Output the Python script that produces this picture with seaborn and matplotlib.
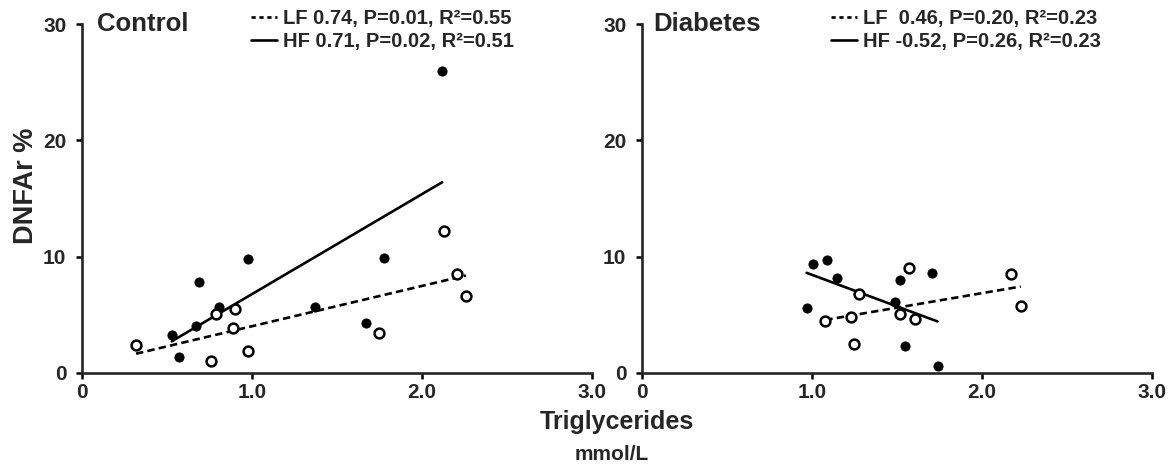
import matplotlib
matplotlib.use("Agg")
import matplotlib.pyplot as plt
import numpy as np
import pandas as pd
import seaborn as sns

# Control group: HF (filled) and LF (open) measurements
ctrl_hf_x = [0.53, 0.57, 0.67, 0.69, 0.81, 0.98, 1.37, 1.67, 1.78, 2.12]
ctrl_hf_y = [3.3, 1.4, 4.0, 7.8, 5.7, 9.8, 5.7, 4.3, 9.9, 26.0]
ctrl_lf_x = [0.32, 0.76, 0.79, 0.89, 0.90, 0.98, 1.75, 2.13, 2.21, 2.26]
ctrl_lf_y = [2.4, 1.0, 5.1, 3.9, 5.5, 1.9, 3.4, 12.2, 8.5, 6.6]

# Diabetes group
diab_hf_x = [0.97, 1.01, 1.09, 1.15, 1.49, 1.52, 1.55, 1.71, 1.74]
diab_hf_y = [5.6, 9.4, 9.7, 8.2, 6.1, 8.0, 2.3, 8.6, 0.6]
diab_lf_x = [1.08, 1.23, 1.25, 1.28, 1.52, 1.57, 1.61, 2.17, 2.23]
diab_lf_y = [4.5, 4.8, 2.5, 6.8, 5.1, 9.0, 4.6, 8.5, 5.8]

panel_titles = ["Control", "Diabetes"]
ctrl_labels = ["LF 0.74, P=0.01, R²=0.55", "HF 0.71, P=0.02, R²=0.51"]
diab_labels = ["LF  0.46, P=0.20, R²=0.23", "HF -0.52, P=0.26, R²=0.23"]

x_ticks = [0, 1, 2, 3]
x_tick_labels = ["0", "1.0", "2.0", "3.0"]
y_ticks = [0, 10, 20, 30]

sns.set_style("ticks")
plt.rcParams["font.family"] = ["Liberation Sans", "DejaVu Sans"]
plt.rcParams["font.weight"] = "bold"

W, H = 1168, 470
fig = plt.figure(figsize=(W / 100, H / 100), dpi=100)


def px_axes(x0, y_top, w, h):
    return fig.add_axes([x0 / W, 1 - (y_top + h) / H, w / W, h / H])


def fig_xy(x, y):
    return x / W, 1 - y / H


ax1 = px_axes(81.7, 24, 510, 349)
ax2 = px_axes(641.7, 24, 510, 349)

DASH = (0, (2.8, 1.6))


def draw_panel(ax, hf_x, hf_y, lf_x, lf_y, labels, legend_right):
    lf = pd.DataFrame({"tg": lf_x, "dnfa": lf_y})
    hf = pd.DataFrame({"tg": hf_x, "dnfa": hf_y})
    sns.regplot(data=lf, x="tg", y="dnfa", ax=ax, scatter=False, ci=None,
                color="black", line_kws=dict(lw=1.9, ls=DASH, zorder=2))
    sns.regplot(data=hf, x="tg", y="dnfa", ax=ax, scatter=False, ci=None,
                color="black", line_kws=dict(lw=1.9, ls="-", zorder=2))
    sns.scatterplot(data=hf, x="tg", y="dnfa", ax=ax, color="black",
                    edgecolor="black", s=44, linewidth=0.6, zorder=3)
    sns.scatterplot(data=lf, x="tg", y="dnfa", ax=ax, color="white",
                    edgecolor="black", s=50, linewidth=1.8, zorder=3)

    ax.set_xlim(0, 3)
    ax.set_ylim(0, 30)
    ax.set_xticks(x_ticks)
    ax.set_xticklabels(x_tick_labels)
    ax.set_yticks(y_ticks)
    ax.set_xlabel("")
    ax.set_ylabel("")
    sns.despine(ax=ax)
    for sp in ("left", "bottom"):
        ax.spines[sp].set_linewidth(1.9)
    ax.tick_params(axis="both", direction="out", length=4, width=1.8,
                   color="black")
    ax.tick_params(axis="x", labelsize=15, pad=3)
    ax.tick_params(axis="y", labelsize=15, pad=7)
    for t in ax.get_xticklabels() + ax.get_yticklabels():
        t.set_fontweight("bold")

    # legend handles: short dashes for LF, solid for HF
    lf_line, hf_line = ax.get_lines()[:2]
    lf_handle = plt.Line2D([], [], color="black", lw=1.9, ls=(0, (1.6, 1.4)))
    hf_handle = plt.Line2D([], [], color="black", lw=1.9, ls="-")
    ax.legend([lf_handle, hf_handle], labels, loc="upper right",
              frameon=False, fontsize=14.5, handlelength=1.3,
              handletextpad=0.3, labelspacing=0.2, borderaxespad=0,
              borderpad=0, bbox_to_anchor=fig_xy(legend_right, 9),
              bbox_transform=fig.transFigure)


draw_panel(ax1, ctrl_hf_x, ctrl_hf_y, ctrl_lf_x, ctrl_lf_y, ctrl_labels, 514)
draw_panel(ax2, diab_hf_x, diab_hf_y, diab_lf_x, diab_lf_y, diab_labels, 1101)

fig.text(*fig_xy(97, 31), panel_titles[0], fontsize=18.5, fontweight="bold",
         va="baseline", ha="left")
fig.text(*fig_xy(653, 31), panel_titles[1], fontsize=18.5, fontweight="bold",
         va="baseline", ha="left")

fig.text(*fig_xy(26, 186), "DNFAr %", fontsize=19.5, fontweight="bold",
         rotation=90, ha="center", va="center")
fig.text(*fig_xy(617, 422), "Triglycerides", fontsize=18, fontweight="bold",
         ha="center", va="center")
fig.text(*fig_xy(612, 455), "mmol/L", fontsize=15, fontweight="bold",
         ha="center", va="center")

fig.savefig("out.png", dpi=100)
